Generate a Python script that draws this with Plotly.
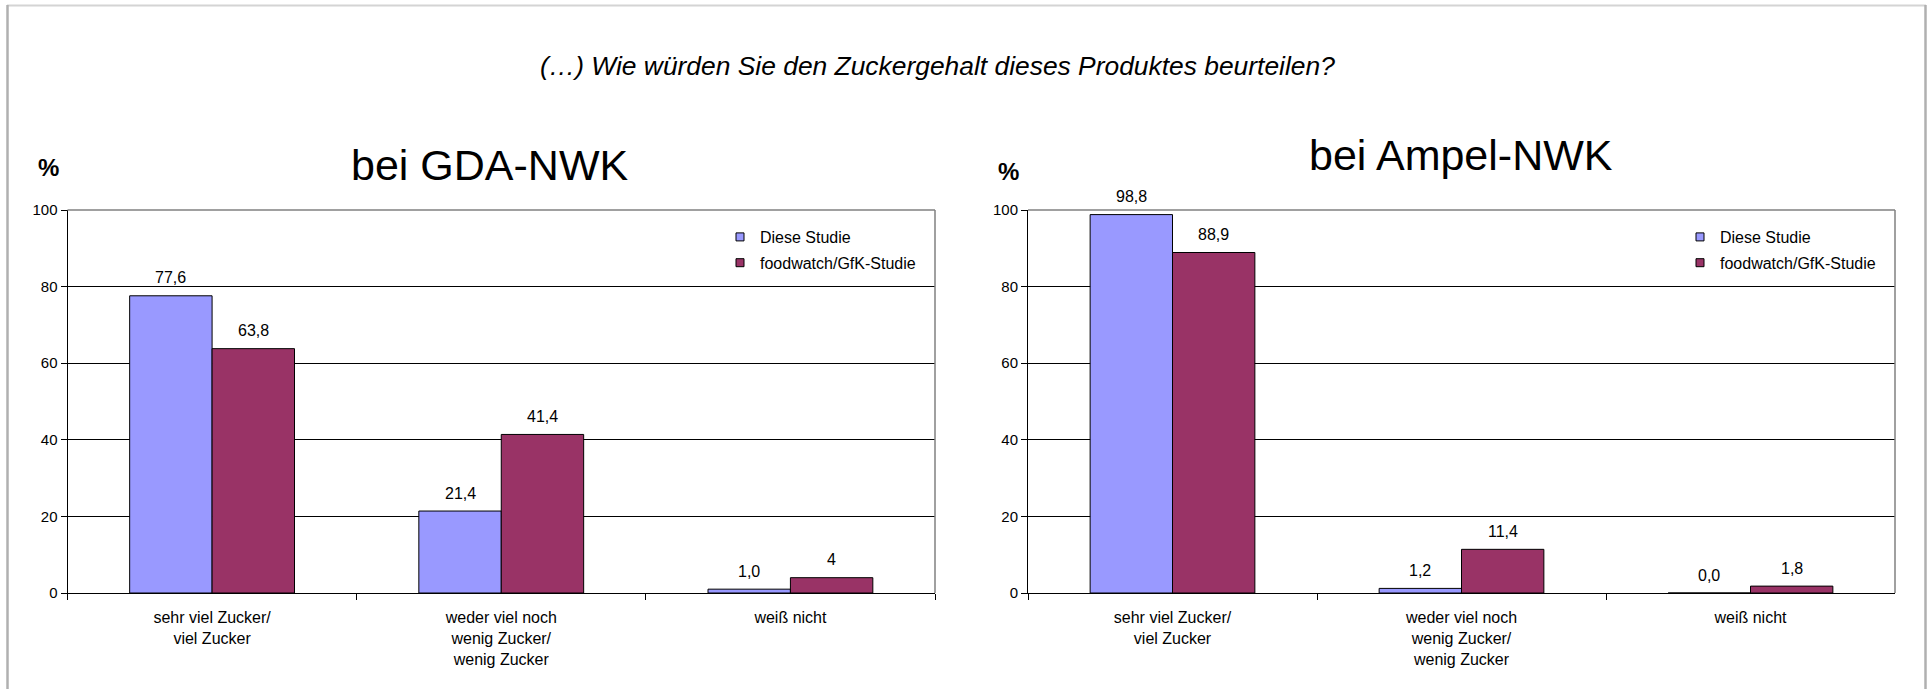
import plotly.graph_objects as go

W, H = 1929, 689

categories = ["sehr viel Zucker/<br>viel Zucker",
              "weder viel noch<br>wenig Zucker/<br>wenig Zucker",
              "weiß nicht"]
series_names = ["Diese Studie", "foodwatch/GfK-Studie"]
colors = ["#9999FF", "#993366"]

gda_diese = [77.6, 21.4, 1.0]
gda_foodwatch = [63.8, 41.4, 4]
gda_diese_labels = ["77,6", "21,4", "1,0"]
gda_foodwatch_labels = ["63,8", "41,4", "4"]

ampel_diese = [98.8, 1.2, 0.0]
ampel_foodwatch = [88.9, 11.4, 1.8]
ampel_diese_labels = ["98,8", "1,2", "0,0"]
ampel_foodwatch_labels = ["88,9", "11,4", "1,8"]

y_ticks = [0, 20, 40, 60, 80, 100]

main_title = "(…) Wie würden Sie den Zuckergehalt dieses Produktes beurteilen?"
panel_titles = ["bei GDA-NWK", "bei Ampel-NWK"]

FONT = "Arial, Liberation Sans, sans-serif"

def px_x(p):
    return p / W

def px_y(p):
    return (H - p) / H

x1_dom = [px_x(67.5), px_x(935)]
x2_dom = [px_x(1028), px_x(1895)]
y_dom = [px_y(593), px_y(210)]
bargap = 0.43

fig = go.Figure()

panels = [
    ("x", "y", "legend", [gda_diese, gda_foodwatch], [gda_diese_labels, gda_foodwatch_labels], x1_dom),
    ("x2", "y2", "legend2", [ampel_diese, ampel_foodwatch], [ampel_diese_labels, ampel_foodwatch_labels], x2_dom),
]

annotations = []
for xa, ya, lg, vals, labs, dom in panels:
    plot_w = (dom[1] - dom[0]) * W
    bar_w = plot_w / len(categories) * (1 - bargap) / 2
    for i, (name, col) in enumerate(zip(series_names, colors)):
        fig.add_trace(go.Bar(
            x=categories, y=vals[i], name=name, xaxis=xa, yaxis=ya,
            marker=dict(color=col, line=dict(color="#000000", width=1)),
            showlegend=False, hoverinfo="skip",
        ))
        # legend entry with a small square swatch
        fig.add_trace(go.Scatter(
            x=[None], y=[None], mode="markers", name=name, xaxis=xa, yaxis=ya,
            marker=dict(symbol="square", size=8, color=col, line=dict(color="#000000", width=1)),
            legend=lg, legendgroup=f"{lg}_{i}", showlegend=True, hoverinfo="skip",
        ))
        shift = (-0.5 if i == 0 else 0.5) * bar_w
        for c, v, t in zip(categories, vals[i], labs[i]):
            annotations.append(dict(
                x=c, y=v, xref=xa, yref=ya, text=t, showarrow=False,
                xshift=shift, yshift=18, yanchor="middle",
                font=dict(family=FONT, size=16, color="#000000"),
            ))

# titles
annotations.append(dict(x=px_x(937), y=px_y(66), xref="paper", yref="paper",
                        text=f"<i>{main_title}</i>", showarrow=False,
                        font=dict(family=FONT, size=26.4, color="#000000"),
                        xanchor="center", yanchor="middle"))
annotations.append(dict(x=px_x(489), y=px_y(165), xref="paper", yref="paper",
                        text=panel_titles[0], showarrow=False,
                        font=dict(family=FONT, size=43, color="#000000"),
                        xanchor="center", yanchor="middle"))
annotations.append(dict(x=px_x(1461), y=px_y(155), xref="paper", yref="paper",
                        text=panel_titles[1], showarrow=False,
                        font=dict(family=FONT, size=43, color="#000000"),
                        xanchor="center", yanchor="middle"))
annotations.append(dict(x=px_x(48), y=px_y(167), xref="paper", yref="paper",
                        text="<b>%</b>", showarrow=False,
                        font=dict(family=FONT, size=24, color="#000000"),
                        xanchor="center", yanchor="middle"))
annotations.append(dict(x=px_x(1008), y=px_y(172), xref="paper", yref="paper",
                        text="<b>%</b>", showarrow=False,
                        font=dict(family=FONT, size=24, color="#000000"),
                        xanchor="center", yanchor="middle"))

xaxis_common = dict(
    type="category", showgrid=False, showline=True, linecolor="#000000", linewidth=1,
    ticks="outside", ticklen=6, tickcolor="#000000", tickson="boundaries",
    tickfont=dict(family=FONT, size=16, color="#000000"), ticklabelstandoff=10,
    zeroline=False, fixedrange=True,
)
yaxis_common = dict(
    range=[0, 100], tickvals=y_ticks, ticktext=[str(v) for v in y_ticks],
    showgrid=True, gridcolor="#000000", gridwidth=1,
    showline=True, linecolor="#000000", linewidth=1,
    ticks="outside", ticklen=6, tickcolor="#000000",
    tickfont=dict(family=FONT, size=15, color="#000000"), ticklabelstandoff=0,
    zeroline=False, fixedrange=True,
)

legend_common = dict(
    xanchor="left", yanchor="top", bgcolor="rgba(0,0,0,0)", borderwidth=0,
    font=dict(family=FONT, size=16, color="#000000"),
    traceorder="grouped", tracegroupgap=2, itemwidth=30, itemsizing="trace",
)

shapes = []
for xa, ya in [("x", "y"), ("x2", "y2")]:
    shapes.append(dict(type="line", xref=f"{xa} domain", yref=f"{ya} domain",
                       x0=0, x1=1, y0=1, y1=1, line=dict(color="#808080", width=1.5)))
    shapes.append(dict(type="line", xref=f"{xa} domain", yref=f"{ya} domain",
                       x0=1, x1=1, y0=0, y1=1, line=dict(color="#808080", width=1.5)))
# outer frame
shapes.append(dict(type="line", xref="paper", yref="paper", x0=px_x(7), x1=px_x(1926),
                   y0=px_y(5.5), y1=px_y(5.5), line=dict(color="#d4d4d4", width=2)))
shapes.append(dict(type="line", xref="paper", yref="paper", x0=px_x(7.5), x1=px_x(7.5),
                   y0=px_y(5), y1=px_y(700), line=dict(color="#b0b0b0", width=2.5)))
shapes.append(dict(type="line", xref="paper", yref="paper", x0=px_x(1925.5), x1=px_x(1925.5),
                   y0=px_y(5), y1=px_y(700), line=dict(color="#b0b0b0", width=2.5)))

fig.update_layout(
    width=W, height=H, margin=dict(l=0, r=0, t=0, b=0, autoexpand=False),
    paper_bgcolor="#ffffff", plot_bgcolor="#ffffff",
    barmode="group", bargap=bargap, bargroupgap=0,
    font=dict(family=FONT, color="#000000"),
    xaxis=dict(domain=x1_dom, anchor="y", **xaxis_common),
    yaxis=dict(domain=y_dom, anchor="x", **yaxis_common),
    xaxis2=dict(domain=x2_dom, anchor="y2", **xaxis_common),
    yaxis2=dict(domain=y_dom, anchor="x2", **yaxis_common),
    legend=dict(x=px_x(720), y=px_y(220), **legend_common),
    legend2=dict(x=px_x(1680), y=px_y(220), **legend_common),
    annotations=annotations,
    shapes=shapes,
    showlegend=True,
)

fig.write_html("out.html", config={"displayModeBar": False},
               post_script="document.body.style.margin='0';document.body.style.overflow='hidden';")
